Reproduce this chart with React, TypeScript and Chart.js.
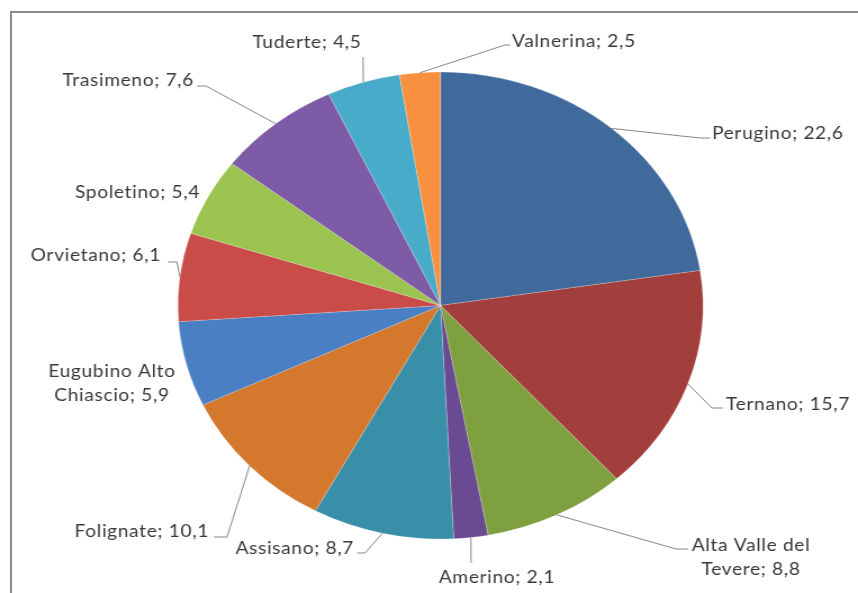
import React, { useEffect, useRef } from "react";
import { Chart, registerables } from "chart.js";

Chart.register(...registerables);

// ---- data ----
const categories = [
  "Perugino",
  "Ternano",
  "Alta Valle del Tevere",
  "Amerino",
  "Assisano",
  "Folignate",
  "Eugubino Alto Chiascio",
  "Orvietano",
  "Spoletino",
  "Trasimeno",
  "Tuderte",
  "Valnerina",
];
const values = [22.6, 15.7, 8.8, 2.1, 8.7, 10.1, 5.9, 6.1, 5.4, 7.6, 4.5, 2.5];
const colors = [
  "#40699C",
  "#A23E3B",
  "#7FA03F",
  "#6A4A91",
  "#3A8FA8",
  "#D4782E",
  "#4A7FC4",
  "#C94C48",
  "#9CC24F",
  "#7E5BA6",
  "#48ABC9",
  "#F7913F",
];

// ---- layout (page pixel coordinates) ----
const PAGE_W = 858;
const PAGE_H = 593;
const CANVAS_W = 763; // drawn narrower, stretched horizontally to the page width
const SX = PAGE_W / CANVAS_W;
const PIE_CX = 440.5;
const PIE_CY = 305.5;
const PIE_R = 233.5;
const FONT_SIZE = 17;
const LINE_H = 23.5;

type Layout = {
  elbow?: [number, number];
  end?: [number, number];
  text: [number, number];
  align: "left" | "right" | "center";
  wrap?: number;
};

const labelLayout: Layout[] = [
  { elbow: [700, 138], end: [710, 138], text: [712, 134], align: "left" },
  { elbow: [712, 408], end: [723, 408], text: [726, 405], align: "left" },
  { elbow: [676, 549], end: [688, 549], text: [751, 546], align: "center", wrap: 145 },
  { elbow: [471, 563], text: [497, 578], align: "center" },
  { elbow: [365, 553], end: [357, 553], text: [354, 549], align: "right" },
  { elbow: [227, 537], end: [214, 537], text: [209, 532], align: "right" },
  { text: [112, 372], align: "center", wrap: 145 },
  { elbow: [177, 262], end: [168, 262], text: [161, 256], align: "right" },
  { text: [200, 193], align: "right" },
  { elbow: [206, 86], end: [197, 86], text: [194, 81], align: "right" },
  { elbow: [363, 57], text: [307, 43], align: "center" },
  { elbow: [505, 45], end: [510, 45], text: [512, 42], align: "left" },
];

function fmt(v: number) {
  return String(v).replace(".", ",");
}

function wrapText(ctx: CanvasRenderingContext2D, text: string, maxW: number): string[] {
  const words = text.split(" ");
  const lines: string[] = [];
  let cur = "";
  for (const w of words) {
    const test = cur ? cur + " " + w : w;
    if (cur && ctx.measureText(test).width > maxW) {
      lines.push(cur);
      cur = w;
    } else {
      cur = test;
    }
  }
  if (cur) lines.push(cur);
  return lines;
}

const outLabels = {
  id: "outLabels",
  afterDatasetsDraw(chart: any) {
    const ctx: CanvasRenderingContext2D = chart.ctx;
    const meta = chart.getDatasetMeta(0);
    ctx.save();
    ctx.font = `${FONT_SIZE}px Lato`;
    (ctx as any).letterSpacing = "0.6px";
    ctx.fillStyle = "#383838";
    ctx.strokeStyle = "#858585";
    ctx.lineWidth = 1;
    ctx.textBaseline = "middle";
    meta.data.forEach((arc: any, i: number) => {
      const L = labelLayout[i];
      if (!L) return;
      const mid = (arc.startAngle + arc.endAngle) / 2;
      const sx = arc.x + Math.cos(mid) * arc.outerRadius;
      const sy = arc.y + Math.sin(mid) * arc.outerRadius;
      if (L.elbow) {
        ctx.beginPath();
        ctx.moveTo(sx, sy);
        ctx.lineTo(L.elbow[0] / SX, L.elbow[1]);
        if (L.end) ctx.lineTo(L.end[0] / SX, L.end[1]);
        ctx.stroke();
      }
      const text = `${categories[i]}; ${fmt(values[i])}`;
      const lines = L.wrap ? wrapText(ctx, text, L.wrap / SX) : [text];
      ctx.textAlign = L.align;
      lines.forEach((ln, j) => {
        ctx.fillText(ln, L.text[0] / SX, L.text[1] + j * LINE_H);
      });
    });
    ctx.restore();
  },
};

export default function App() {
  const ref = useRef<HTMLCanvasElement | null>(null);
  useEffect(() => {
    if (!ref.current) return;
    const cx = PIE_CX / SX;
    const padTop = PIE_CY - PIE_R;
    const padBottom = PAGE_H - (PIE_CY + PIE_R);
    const padLeft = cx - PIE_R;
    const padRight = CANVAS_W - (cx + PIE_R);
    const chart = new Chart(ref.current, {
      type: "pie",
      data: {
        labels: categories,
        datasets: [
          {
            data: values,
            backgroundColor: colors,
            borderColor: "rgba(255,255,255,0.35)",
            borderWidth: 0.6,
            hoverOffset: 0,
            radius: PIE_R,
          } as any,
        ],
      },
      options: {
        responsive: false,
        maintainAspectRatio: false,
        devicePixelRatio: 1,
        animation: false,
        events: [],
        layout: { padding: { top: padTop, bottom: padBottom, left: padLeft, right: padRight } },
        plugins: {
          legend: { display: false },
          tooltip: { enabled: false },
        },
      },
      plugins: [outLabels],
    });
    return () => chart.destroy();
  }, []);

  return (
    <div
      style={{
        position: "fixed",
        left: 0,
        top: 0,
        width: PAGE_W,
        height: PAGE_H,
        overflow: "hidden",
        background: "#fff",
      }}
    >
      <div
        style={{
          position: "absolute",
          left: 10,
          top: 11,
          width: 2000,
          height: 2000,
          border: "2px solid #8c8c8c",
        }}
      />
      <div
        style={{
          position: "absolute",
          left: 0,
          top: 0,
          transform: `scaleX(${SX})`,
          transformOrigin: "0 0",
        }}
      >
        <canvas
          ref={ref}
          width={CANVAS_W}
          height={PAGE_H}
          style={{ width: CANVAS_W, height: PAGE_H, display: "block" }}
        />
      </div>
    </div>
  );
}
